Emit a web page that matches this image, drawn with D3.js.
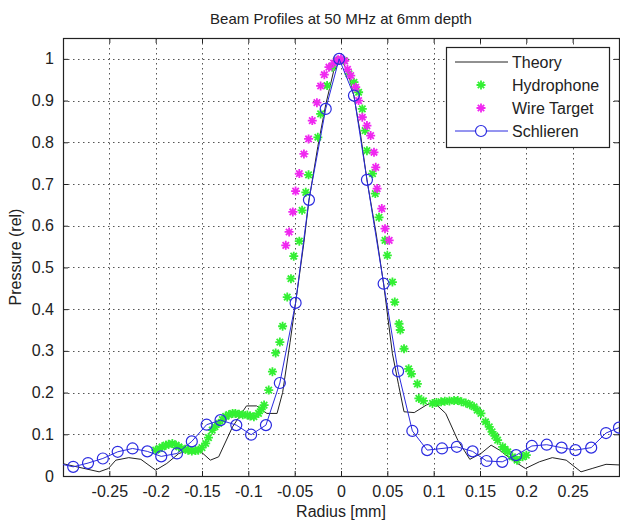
<!DOCTYPE html>
<html>
<head>
<meta charset="utf-8">
<script src="https://cdn.jsdelivr.net/npm/d3@7"></script>
<style>
  body { margin: 0; background: #fff; }
  text { font-family: "Liberation Sans", Arial, sans-serif; fill: #222; }
</style>
</head>
<body>
<script>
// tick values
var xTicks = [-0.25, -0.2, -0.15, -0.1, -0.05, 0, 0.05, 0.1, 0.15, 0.2, 0.25];
var yTicks = [0, 0.1, 0.2, 0.3, 0.4, 0.5, 0.6, 0.7, 0.8, 0.9, 1];

// Theory: [radius, pressure]
var theory = [
  [-0.305, 0.032], [-0.301, 0.030], [-0.261, 0.010], [-0.251, 0.018], [-0.243, 0.038],
  [-0.229, 0.044], [-0.216, 0.040], [-0.200, 0.014], [-0.188, 0.030], [-0.175, 0.054],
  [-0.157, 0.066], [-0.153, 0.062], [-0.141, 0.038], [-0.132, 0.046], [-0.117, 0.118],
  [-0.102, 0.168], [-0.091, 0.168], [-0.080, 0.150], [-0.069, 0.150], [-0.063, 0.200],
  [-0.055, 0.320], [-0.049, 0.415], [-0.040, 0.560], [-0.0346, 0.660], [-0.025, 0.790],
  [-0.0165, 0.890], [-0.008, 0.970], [0, 1.0], [0.008, 0.965], [0.014, 0.910],
  [0.021, 0.820], [0.028, 0.710], [0.038, 0.580], [0.046, 0.460], [0.0555, 0.293],
  [0.062, 0.220], [0.068, 0.154], [0.079, 0.152], [0.092, 0.170], [0.100, 0.177],
  [0.113, 0.150], [0.126, 0.086], [0.139, 0.040], [0.151, 0.054], [0.162, 0.074],
  [0.171, 0.062], [0.185, 0.038], [0.199, 0.018], [0.214, 0.034], [0.228, 0.044],
  [0.243, 0.038], [0.259, 0.010], [0.271, 0.018], [0.286, 0.028], [0.305, 0.026]
];

// Hydrophone measurements
var hydrophone = [
  [-0.200, 0.062], [-0.196, 0.066], [-0.193, 0.070], [-0.189, 0.074], [-0.186, 0.076],
  [-0.182, 0.078], [-0.178, 0.074], [-0.175, 0.070], [-0.172, 0.066], [-0.168, 0.064],
  [-0.165, 0.062], [-0.161, 0.060], [-0.157, 0.061], [-0.154, 0.062], [-0.150, 0.068],
  [-0.146, 0.078], [-0.143, 0.092], [-0.139, 0.110], [-0.136, 0.118], [-0.132, 0.126],
  [-0.128, 0.135], [-0.1245, 0.143], [-0.121, 0.147], [-0.117, 0.150], [-0.114, 0.150],
  [-0.110, 0.148], [-0.106, 0.147], [-0.101, 0.146], [-0.098, 0.144], [-0.094, 0.142],
  [-0.089, 0.150], [-0.086, 0.160], [-0.083, 0.170], [-0.078, 0.206], [-0.074, 0.250],
  [-0.0705, 0.295], [-0.066, 0.321], [-0.063, 0.359], [-0.058, 0.429], [-0.054, 0.473],
  [-0.051, 0.527], [-0.045, 0.563], [-0.042, 0.637], [-0.038, 0.680], [-0.035, 0.722],
  [-0.025, 0.812], [-0.022, 0.868], [-0.015, 0.936], [-0.0094, 0.980], [-0.005, 0.995],
  [0.003, 0.996], [0.0086, 0.964], [0.014, 0.944], [0.019, 0.920], [0.023, 0.880],
  [0.026, 0.828], [0.028, 0.780], [0.034, 0.725], [0.037, 0.677], [0.041, 0.620],
  [0.0475, 0.565], [0.050, 0.529], [0.0555, 0.465], [0.058, 0.417], [0.0626, 0.365],
  [0.064, 0.350], [0.068, 0.305], [0.073, 0.257], [0.076, 0.245], [0.0824, 0.221],
  [0.084, 0.186], [0.089, 0.180], [0.0987, 0.174], [0.103, 0.176], [0.108, 0.178],
  [0.112, 0.179], [0.117, 0.180], [0.122, 0.181], [0.126, 0.181], [0.130, 0.178],
  [0.1347, 0.175], [0.139, 0.171], [0.1436, 0.166], [0.147, 0.158], [0.151, 0.150],
  [0.156, 0.130], [0.160, 0.118], [0.163, 0.106], [0.166, 0.096], [0.169, 0.086],
  [0.1744, 0.070], [0.177, 0.064], [0.180, 0.058], [0.185, 0.046], [0.190, 0.038],
  [0.196, 0.046], [0.200, 0.050]
];

// Wire Target measurements
var wireTarget = [
  [-0.0596, 0.553], [-0.056, 0.585], [-0.052, 0.633], [-0.049, 0.683], [-0.045, 0.725],
  [-0.040, 0.772], [-0.035, 0.808], [-0.031, 0.852], [-0.026, 0.895], [-0.022, 0.935],
  [-0.018, 0.962], [-0.013, 0.980], [-0.008, 0.990], [-0.004, 0.997], [0, 1.0],
  [0.004, 0.995], [0.007, 0.975], [0.0105, 0.960], [0.0159, 0.932], [0.019, 0.900],
  [0.023, 0.860], [0.028, 0.840], [0.032, 0.816], [0.0356, 0.776], [0.0375, 0.740],
  [0.039, 0.689], [0.044, 0.641], [0.0475, 0.593], [0.052, 0.565]
];

// Schlieren measurements
var schlieren = [
  [-0.305, 0.030], [-0.289, 0.022], [-0.273, 0.031], [-0.257, 0.042], [-0.241, 0.058],
  [-0.225, 0.066], [-0.209, 0.059], [-0.194, 0.047], [-0.177, 0.054], [-0.161, 0.083],
  [-0.145, 0.123], [-0.130, 0.134], [-0.113, 0.122], [-0.097, 0.099], [-0.081, 0.122],
  [-0.066, 0.223], [-0.049, 0.415], [-0.0346, 0.662], [-0.0165, 0.880], [-0.002, 1.0],
  [0.014, 0.912], [0.028, 0.710], [0.046, 0.461], [0.0616, 0.251], [0.077, 0.108],
  [0.093, 0.062], [0.109, 0.066], [0.125, 0.070], [0.142, 0.059], [0.157, 0.036],
  [0.174, 0.034], [0.189, 0.050], [0.206, 0.072], [0.222, 0.075], [0.238, 0.068],
  [0.253, 0.062], [0.270, 0.068], [0.286, 0.103], [0.300, 0.116]
];

var legendNames = ["Theory", "Hydrophone", "Wire Target", "Schlieren"];

var W = 620, H = 524;
var margin = {left: 63, right: 1, top: 38, bottom: 48};

var svg = d3.select("body").append("svg")
  .attr("width", W)
  .attr("height", H);

var x = d3.scaleLinear().domain([-0.3, 0.3]).range([margin.left, W - margin.right]);
var y = d3.scaleLinear().domain([0, 1.05]).range([H - margin.bottom, margin.top]);

var x0 = x.range()[0], x1 = x.range()[1], y0 = y.range()[0], y1 = y.range()[1];

svg.append("defs").append("clipPath").attr("id", "plot-clip")
  .append("rect")
    .attr("x", x0).attr("y", y1)
    .attr("width", x1 - x0).attr("height", y0 - y1);

// dotted grid
var grid = svg.append("g").attr("stroke", "#555").attr("stroke-width", 1)
  .attr("stroke-dasharray", "1.5,3.5");
grid.selectAll("line.vx").data(xTicks).enter().append("line")
  .attr("x1", function(d) { return Math.round(x(d)) + 0.5; })
  .attr("x2", function(d) { return Math.round(x(d)) + 0.5; })
  .attr("y1", y1).attr("y2", y0);
grid.selectAll("line.hy").data(yTicks.slice(1)).enter().append("line")
  .attr("y1", function(d) { return Math.round(y(d)) + 0.5; })
  .attr("y2", function(d) { return Math.round(y(d)) + 0.5; })
  .attr("x1", x0).attr("x2", x1);

// axes: ticks inward on all four sides, Matlab style
var fmt = function(d) { return String(d); };

svg.append("g")
  .attr("transform", "translate(0," + y0 + ")")
  .call(d3.axisBottom(x).tickValues(xTicks).tickFormat(fmt).tickSizeInner(-5).tickSizeOuter(0).tickPadding(10))
  .call(styleAxis);
svg.append("g")
  .attr("transform", "translate(0," + y1 + ")")
  .call(d3.axisTop(x).tickValues(xTicks).tickFormat("").tickSizeInner(-5).tickSizeOuter(0))
  .call(styleAxis);
svg.append("g")
  .attr("transform", "translate(" + x0 + ",0)")
  .call(d3.axisLeft(y).tickValues(yTicks).tickFormat(fmt).tickSizeInner(-5).tickSizeOuter(0).tickPadding(9))
  .call(styleAxis);
svg.append("g")
  .attr("transform", "translate(" + x1 + ",0)")
  .call(d3.axisRight(y).tickValues(yTicks).tickFormat("").tickSizeInner(-5).tickSizeOuter(0))
  .call(styleAxis);

function styleAxis(g) {
  g.select(".domain").remove();
  g.selectAll("line").attr("stroke", "#222");
  g.selectAll("text").attr("font-size", 16).attr("fill", "#222")
    .attr("font-family", "Liberation Sans, Arial, sans-serif");
}

// frame
svg.append("rect")
  .attr("x", x0 + 0.5).attr("y", y1 + 0.5)
  .attr("width", x1 - x0).attr("height", y0 - y1)
  .attr("fill", "none").attr("stroke", "#222").attr("stroke-width", 1.2);

// series
var plot = svg.append("g");
var line = d3.line().x(function(d) { return x(d[0]); }).y(function(d) { return y(d[1]); });

var starPath = "M-4.5,0H4.5M0,-4.5V4.5M-3.2,-3.2L3.2,3.2M-3.2,3.2L3.2,-3.2";
var green = "#33f033", magenta = "#f028f0", blue = "#2a2ae0";

plot.append("path").datum(theory)
  .attr("clip-path", "url(#plot-clip)")
  .attr("d", line).attr("fill", "none").attr("stroke", "#222").attr("stroke-width", 1);

plot.selectAll("path.hyd").data(hydrophone).enter().append("path")
  .attr("class", "hyd")
  .attr("transform", function(d) { return "translate(" + x(d[0]) + "," + y(d[1]) + ")"; })
  .attr("d", starPath).attr("stroke", green).attr("stroke-width", 1.8);

plot.selectAll("path.wire").data(wireTarget).enter().append("path")
  .attr("class", "wire")
  .attr("transform", function(d) { return "translate(" + x(d[0]) + "," + y(d[1]) + ")"; })
  .attr("d", starPath).attr("stroke", magenta).attr("stroke-width", 1.8);

plot.append("path").datum(schlieren)
  .attr("clip-path", "url(#plot-clip)")
  .attr("d", line).attr("fill", "none").attr("stroke", blue).attr("stroke-width", 1);

plot.selectAll("circle.sch").data(schlieren.slice(1)).enter().append("circle")
  .attr("class", "sch")
  .attr("cx", function(d) { return x(d[0]); })
  .attr("cy", function(d) { return y(d[1]); })
  .attr("r", 5.5)
  .attr("fill", "none").attr("stroke", blue).attr("stroke-width", 1.2);

// legend
var lg = svg.append("g").attr("transform", "translate(446,47)");
lg.append("rect").attr("x", 0.5).attr("y", 0.5).attr("width", 163).attr("height", 100)
  .attr("fill", "#fff").attr("stroke", "#222").attr("stroke-width", 1.2);

var rows = lg.selectAll("g.row").data(legendNames).enter().append("g")
  .attr("transform", function(d, i) { return "translate(0," + (15 + i * 23) + ")"; });

rows.append("text").attr("x", 66).attr("y", 6).attr("font-size", 16).text(function(d) { return d; });

rows.filter(function(d, i) { return i === 0 || i === 3; }).append("line")
  .attr("x1", 9).attr("x2", 62).attr("y1", 0).attr("y2", 0)
  .attr("stroke", function(d, i) { return i === 0 ? "#222" : blue; })
  .attr("stroke-width", 1);
rows.filter(function(d, i) { return i === 1 || i === 2; }).append("path")
  .attr("transform", "translate(35,0)")
  .attr("d", starPath)
  .attr("stroke", function(d, i) { return i === 0 ? green : magenta; })
  .attr("stroke-width", 1.8);
rows.filter(function(d, i) { return i === 3; }).append("circle")
  .attr("cx", 35).attr("cy", 0).attr("r", 5.5)
  .attr("fill", "#fff").attr("stroke", blue).attr("stroke-width", 1.2);

// title and axis labels
svg.append("text").attr("x", (x0 + x1) / 2).attr("y", 24)
  .attr("text-anchor", "middle").attr("font-size", 15)
  .text("Beam Profiles at 50 MHz at 6mm depth");
svg.append("text").attr("x", (x0 + x1) / 2).attr("y", 517)
  .attr("text-anchor", "middle").attr("font-size", 16)
  .text("Radius [mm]");
svg.append("text")
  .attr("transform", "translate(21," + ((y0 + y1) / 2) + ") rotate(-90)")
  .attr("text-anchor", "middle").attr("font-size", 16)
  .text("Pressure (rel)");
</script>
</body>
</html>
